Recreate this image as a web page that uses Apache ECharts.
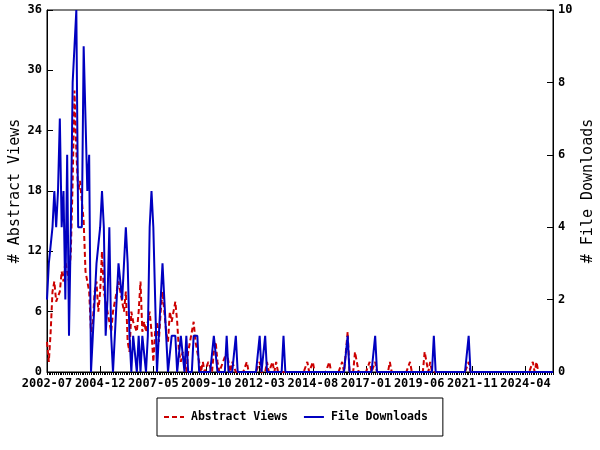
<!DOCTYPE html>
<html>
<head>
<meta charset="utf-8">
<script src="https://cdn.jsdelivr.net/npm/echarts@6/dist/echarts.min.js"></script>
<style>html,body{margin:0;padding:0;background:#fff}#c{width:600px;height:450px}</style>
</head>
<body>
<div id="c"></div>
<script>
// Monthly categories 2002-07 .. 2025-07
const startYear = 2002, startMonth = 7, monthCount = 277;
const months = [];
for (let i = 0; i < monthCount; i++) {
  const m = startMonth - 1 + i;
  const y = startYear + Math.floor(m / 12);
  const mm = (m % 12) + 1;
  months.push(y + '-' + (mm < 10 ? '0' + mm : mm));
}

// Abstract views (left axis), first 103 months
const viewsEarly = [
  3,1,4,8,9,7,7,8,10,9, 11,10,9,12,19,28,22,18,19,19,
  15,10,9,8,4,5,8,9,6,8, 12,8,7,6,5,4,6,7,8,9,
  8,7,6,8,3,2,6,5,5,4, 6,9,4,5,4,5,6,4,1,4,
  5,3,6,8,6,4,3,6,5,6, 7,5,2,1,2,1,0,2,3,4,
  5,3,2,1,0,1,0,0,1,1, 0,2,3,1,0,0,1,1,2,1,
  0,1,1
];
// Later sparse months with non-zero abstract views: [month index, value]
const viewsLate = [
  [109,1],[116,1],[120,1],[123,1],[125,1],[142,1],[145,1],[154,1],[161,1],
  [164,4],[168,2],[169,1],[176,1],[179,1],[187,1],[198,1],[206,2],[207,1],
  [209,1],[230,1],[265,1],[267,1]
];

// File downloads (right axis), first 84 months
const downloadsEarly = [
  2,3,3,4,5,4,5,7,4,5, 2,6,1,4,8,9,10,4,4,4,
  9,7,5,6,0,1,2,3,3,4, 5,4,1,2,4,1,0,0,2,3,
  3,2,2,4,3,1,0,1,1,0, 1,0,1,1,0,1,4,5,4,2,
  0,1,2,3,2,1,0,0,1,1, 1,0,0,1,1,0,1,0,0,0,
  1,1,1,0
];
// Later sparse months with non-zero downloads: [month index, value]
const downloadsLate = [
  [91,1],[92,1],[98,1],[103,1],[116,1],[119,1],[129,1],[164,1],[179,1],[211,1],[230,1]
];

// x-axis labels every 29 months
const labelStep = 29;

function buildSeries(early, late) {
  const arr = new Array(monthCount).fill(0);
  early.forEach((v, i) => { arr[i] = v; });
  late.forEach(p => { arr[p[0]] = p[1]; });
  return arr;
}
const views = buildSeries(viewsEarly, viewsLate);
const downloads = buildSeries(downloadsEarly, downloadsLate);

const FONT = '"DejaVu Sans Mono", monospace';
const chart = echarts.init(document.getElementById('c'), null, {renderer: 'canvas'});
chart.setOption({
  animation: false,
  backgroundColor: '#fff',
  grid: {left: 47, right: 47, top: 10, bottom: 78, show: true, borderColor: '#000', borderWidth: 1,
         containLabel: false, outerBoundsMode: 'none'},
  legend: {
    top: 398, left: 157,
    orient: 'horizontal',
    borderColor: '#000', borderWidth: 1,
    padding: [13, 15, 13, 6],
    itemWidth: 20, itemHeight: 12, itemGap: 15,
    itemStyle: {opacity: 0},
    textStyle: {fontFamily: FONT, fontSize: 11.5, fontWeight: 'bold', color: '#000', padding: [0, 0, 0, 2]},
    data: ['Abstract Views', 'File Downloads']
  },
  xAxis: [{
    type: 'category', data: months, boundaryGap: false,
    axisLine: {lineStyle: {color: '#000', width: 1}},
    axisTick: {show: true, interval: 0, length: 3, inside: false, lineStyle: {color: '#000'}},
    axisLabel: {
      interval: (i) => i % labelStep === 0,
      fontFamily: FONT, fontSize: 12, fontWeight: 'bold', color: '#000', margin: 6
    },
    splitLine: {show: false}
  }, {
    type: 'category', data: months, boundaryGap: false, position: 'bottom',
    axisLine: {show: false},
    axisTick: {show: true, interval: (i) => i % labelStep === 0, length: 6, inside: true, lineStyle: {color: '#000'}},
    axisLabel: {show: false},
    splitLine: {show: false}
  }],
  yAxis: [{
    type: 'value', min: 0, max: 36, interval: 6, position: 'left',
    name: '# Abstract Views', nameLocation: 'middle', nameGap: 24, nameRotate: 90, nameMoveOverlap: false,
    nameTextStyle: {fontFamily: FONT, fontSize: 15, color: '#000'},
    axisLine: {show: true, lineStyle: {color: '#000'}},
    axisTick: {show: true, inside: true, length: 6, lineStyle: {color: '#000'}},
    axisLabel: {fontFamily: FONT, fontSize: 12, fontWeight: 'bold', color: '#000', margin: 5},
    splitLine: {show: false}
  }, {
    type: 'value', min: 0, max: 10, interval: 2, position: 'right',
    name: '# File Downloads', nameLocation: 'middle', nameGap: 28, nameRotate: 90, nameMoveOverlap: false,
    nameTextStyle: {fontFamily: FONT, fontSize: 15, color: '#000'},
    axisLine: {show: true, lineStyle: {color: '#000'}},
    axisTick: {show: true, inside: true, length: 6, lineStyle: {color: '#000'}},
    axisLabel: {fontFamily: FONT, fontSize: 12, fontWeight: 'bold', color: '#000', margin: 5},
    splitLine: {show: false}
  }],
  series: [{
    name: 'Abstract Views', type: 'line', xAxisIndex: 0, yAxisIndex: 0,
    data: views, symbol: 'none', color: '#cc0000',
    lineStyle: {color: '#cc0000', width: 2, type: [5, 3]}
  }, {
    name: 'File Downloads', type: 'line', xAxisIndex: 0, yAxisIndex: 1,
    data: downloads, symbol: 'none', color: '#0000c0',
    lineStyle: {color: '#0000c0', width: 2, type: 'solid'}
  }]
});
</script>
</body>
</html>
